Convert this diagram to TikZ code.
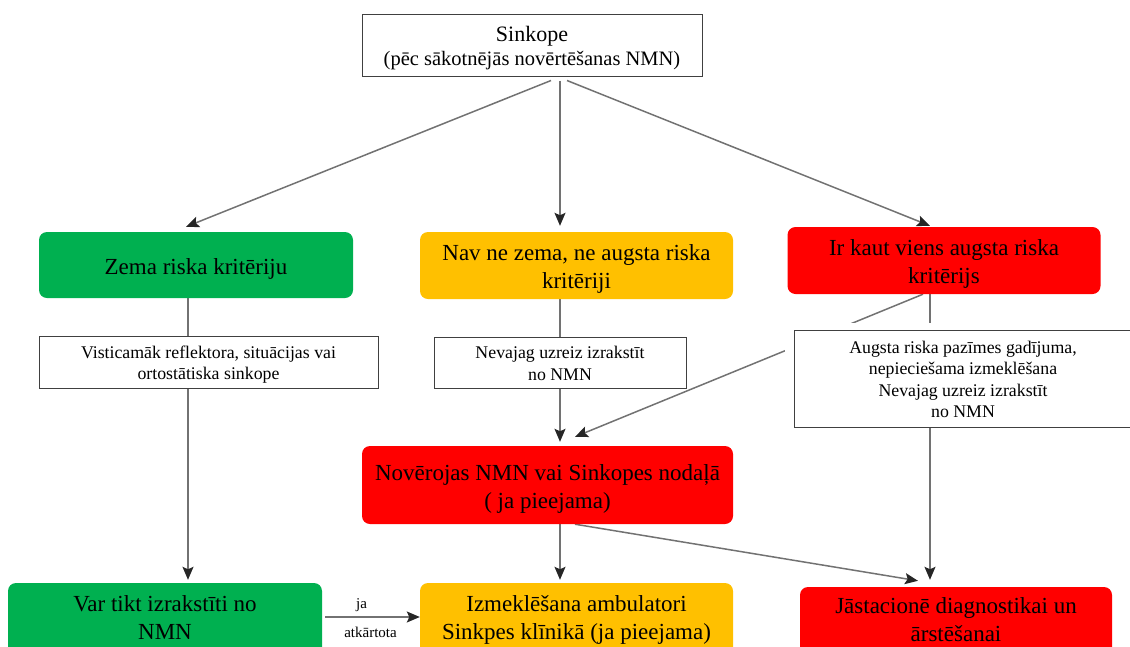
\documentclass[tikz,border=0pt]{standalone}
\usepackage{fontspec}
\setmainfont{Liberation Serif}
\usetikzlibrary{arrows.meta,backgrounds}

\definecolor{riskgreen}{HTML}{00B050}
\definecolor{riskamber}{HTML}{FFC000}
\definecolor{riskred}{HTML}{FF0000}
\definecolor{boxline}{HTML}{404040}
\definecolor{linkgray}{HTML}{727272}
\definecolor{tipdark}{HTML}{262626}

% struts that fix the height of the first line and the depth of the last one
\newcommand{\topstrut}{\rule{0pt}{1.05em}}
\newcommand{\botstrut}{\rule[-0.25em]{0pt}{0pt}}
% deeper bottom for the outcome boxes, which run past the lower edge
\newcommand{\deepstrut}{\rule[\dimexpr-0.25em-20pt\relax]{0pt}{0pt}}

\begin{document}
\begin{tikzpicture}[x=1pt,y=-1pt,
  notebox/.style={draw=boxline,line width=1pt,fill=white,inner sep=0pt,align=center,
    font=\fontsize{17.8}{21.5}\selectfont},
  riskbox/.style={rounded corners=8pt,inner sep=0pt,align=center,
    font=\fontsize{23}{28}\selectfont},
  lowrisk/.style={riskbox,fill=riskgreen},
  midrisk/.style={riskbox,fill=riskamber},
  highrisk/.style={riskbox,fill=riskred},
  link/.style={draw=linkgray,line width=1.5pt,
    -{Stealth[length=13pt,width=11pt,inset=2.5pt,color=tipdark]}},
  smalllabel/.style={inner sep=1pt,font=\fontsize{15}{18}\selectfont}
]
\path[use as bounding box,clip] (0,0) rectangle (1130,646);

% start
\node[notebox,minimum width=340pt,minimum height=62pt,
  font=\fontsize{20.5}{24}\selectfont] (top) at (532,45)
  {\rule{0pt}{1.1em}{\fontsize{22}{24}\selectfont Sinkope}\\(pēc sākotnējās novērtēšanas NMN)\botstrut};

% risk levels
\node[lowrisk,minimum width=314pt,minimum height=66pt] (zg) at (196,265)
  {\topstrut Zema riska kritēriju\botstrut};
\node[midrisk,minimum width=313pt,minimum height=67pt] (ob) at (576.5,265.5)
  {\topstrut Nav ne zema, ne augsta riska\\kritēriji\botstrut};
\node[highrisk,minimum width=313pt,minimum height=67pt] (ri) at (944,260.5)
  {\topstrut Ir kaut viens augsta riska\\kritērijs\botstrut};

% notes
\node[notebox,minimum width=339pt,minimum height=52pt] (sl) at (208.5,362)
  {\topstrut Visticamāk reflektora, situācijas vai\\ortostātiska sinkope\botstrut};
\node[notebox,minimum width=252pt,minimum height=51pt] (sm) at (560,362.5)
  {\topstrut Nevajag uzreiz izrakstīt\\no NMN\botstrut};
\node[notebox,minimum width=338pt,minimum height=97pt] (sr) at (963,378.5)
  {\topstrut Augsta riska pazīmes gadījuma,\\nepieciešama izmeklēšana\\Nevajag uzreiz izrakstīt\\no NMN\botstrut};

% observation
\node[highrisk,minimum width=371pt,minimum height=78pt] (rm) at (547.5,485)
  {\topstrut Novērojas NMN vai Sinkopes nodaļā\\( ja pieejama)\botstrut};

% outcomes
\node[lowrisk,minimum width=314pt,minimum height=86pt] (vg) at (165,626)
  {\topstrut Var tikt izrakstīti no\\NMN\deepstrut};
\node[midrisk,minimum width=313pt,minimum height=86pt] (io) at (576.5,626)
  {\topstrut Izmeklēšana ambulatori\\Sinkpes klīnikā (ja pieejama)\deepstrut};
\node[highrisk,minimum width=312pt,minimum height=82pt] (js) at (956,628)
  {\topstrut Jāstacionē diagnostikai un\\ārstēšanai\deepstrut};

\begin{scope}[on background layer]
  \draw[link] ([xshift=19pt,yshift=-4pt]top.south) -- ([xshift=-10pt,yshift=5pt]zg.north);
  \draw[link] ([xshift=28pt,yshift=-4pt]top.south) -- ([xshift=-16.5pt,yshift=6pt]ob.north);
  \draw[link] ([xshift=35pt,yshift=-4pt]top.south) -- ([xshift=-14pt,yshift=1pt]ri.north);

  \draw[link] ([xshift=-8pt]zg.south) -- ([xshift=23pt,yshift=3pt]vg.north);
  \draw[link] ([xshift=-16.5pt]ob.south) -- ([xshift=12.5pt,yshift=4pt]rm.north);
  \draw[link] ([xshift=-14pt]ri.south) -- ([xshift=-26pt,yshift=7pt]js.north);
  \draw[link] ([xshift=-21pt]ri.south) -- ([xshift=27.5pt,yshift=9pt]rm.north);

  \draw[link] ([xshift=12.5pt]rm.south) -- ([xshift=-16.5pt,yshift=3pt]io.north);
  \draw[link] ([xshift=27.5pt]rm.south) -- ([xshift=-38pt,yshift=6pt]js.north);

  \draw[link] ([xshift=3pt]vg.east |- 0,617) -- (io.west |- 0,617)
    node[smalllabel,midway,above=4pt,xshift=-11pt] (ja) {ja}
    node[smalllabel,midway,below=8pt,xshift=-2pt] (atk) {atkārtota};

  % white margin around the high-risk note
  \fill[white] ([xshift=-9pt,yshift=7pt]sr.north west) rectangle (sr.south east);
\end{scope}
\end{tikzpicture}
\end{document}
